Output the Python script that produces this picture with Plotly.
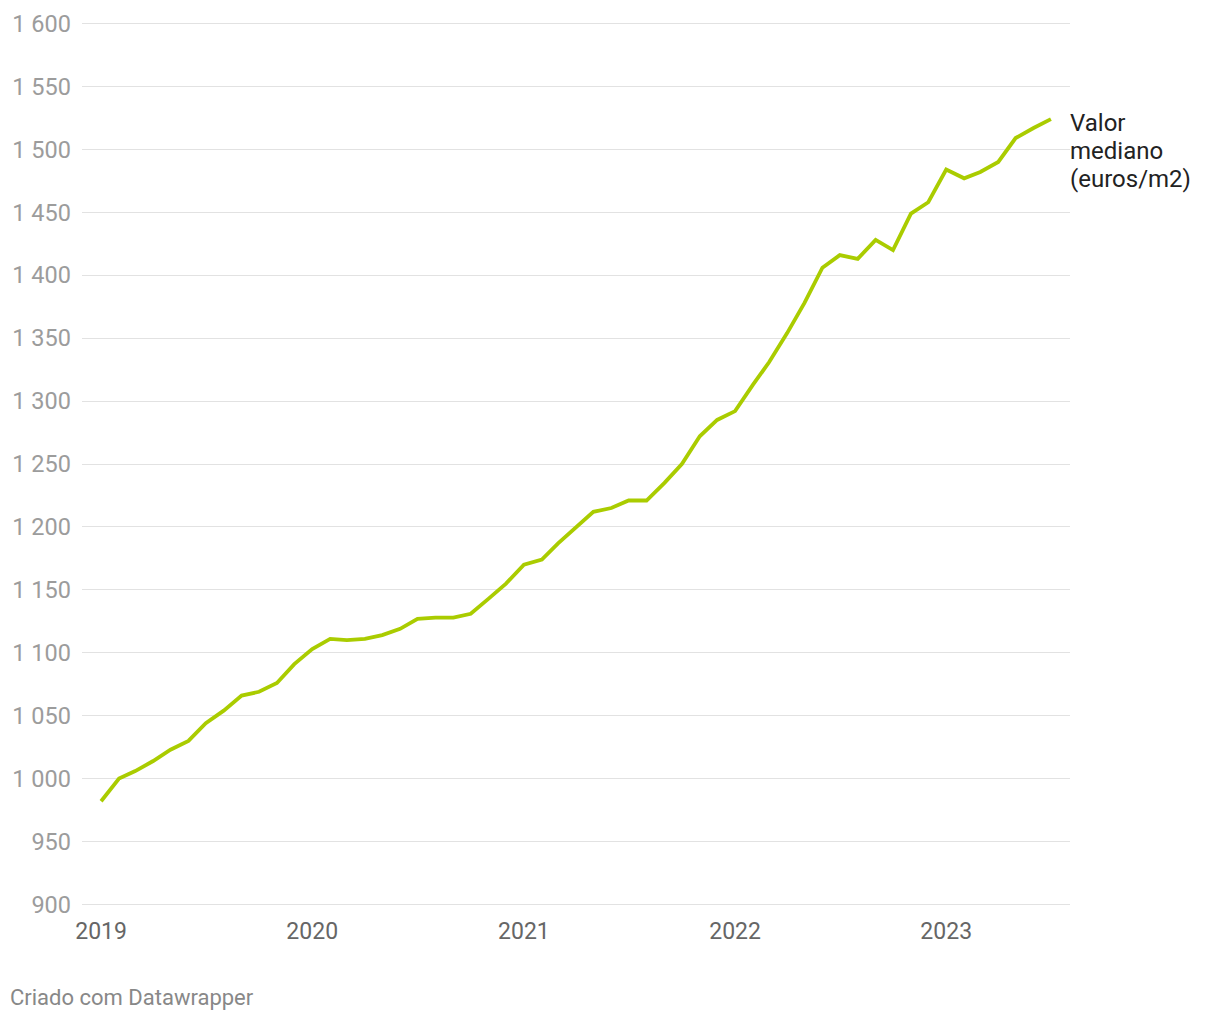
import plotly.graph_objects as go
import pandas as pd

months = pd.date_range("2019-01-01", "2023-07-01", freq="MS").strftime("%Y-%m-%d").tolist()
values = [
    982, 1000, 1006, 1014, 1023, 1030, 1044, 1054, 1066, 1069, 1076, 1091,
    1103, 1111, 1110, 1111, 1114, 1119, 1127, 1128, 1128, 1131, 1143, 1155,
    1170, 1174, 1187, 1200, 1212, 1215, 1221, 1221, 1235, 1250, 1272, 1285,
    1292, 1313, 1331, 1354, 1378, 1406, 1416, 1413, 1428, 1420, 1449, 1458,
    1484, 1477, 1482, 1490, 1509, 1517, 1524,
]
series_label_lines = ["Valor", "mediano", "(euros/m2)"]
y_tickvals = [900, 950, 1000, 1050, 1100, 1150, 1200, 1250, 1300, 1350, 1400, 1450, 1500, 1550, 1600]
y_ticktext = ["900", "950", "1 000", "1 050", "1 100", "1 150", "1 200", "1 250",
              "1 300", "1 350", "1 400", "1 450", "1 500", "1 550", "1 600"]
x_tickvals = ["2019-01-01", "2020-01-01", "2021-01-01", "2022-01-01", "2023-01-01"]
x_ticktext = ["2019", "2020", "2021", "2022", "2023"]

fig = go.Figure()
fig.add_trace(go.Scatter(
    x=months, y=values, mode="lines",
    line=dict(color="#aacc00", width=3.8),
    hoverinfo="x+y", showlegend=False,
))

for i, line_text in enumerate(series_label_lines):
    fig.add_annotation(
        x=1.0, xref="paper", xanchor="left", xshift=-2,
        y=values[-1], yref="y", yanchor="middle", yshift=-4 - 28 * i,
        text=line_text, showarrow=False, align="left",
        font=dict(family="Roboto", size=24, color="#222222"),
    )
fig.add_annotation(
    x=-74/988, xref="paper", xanchor="left",
    y=-90/886, yref="paper", yanchor="middle",
    text="Criado com Datawrapper", showarrow=False, align="left",
    font=dict(family="Roboto", size=22, color="#888888"),
)

fig.update_layout(
    width=1220, height=1020,
    margin=dict(l=74, r=158, t=13, b=121, autoexpand=False),
    paper_bgcolor="white", plot_bgcolor="white",
    font=dict(family="Roboto"),
    xaxis=dict(
        range=["2018-11-29", "2023-08-03"],
        tickvals=x_tickvals, ticktext=x_ticktext,
        showgrid=False, zeroline=False, showline=False,
        ticks="", tickfont=dict(size=23, color="#666666"),
        ticklabelstandoff=8,
    ),
    yaxis=dict(
        range=[898, 1602],
        tickvals=y_tickvals, ticktext=y_ticktext,
        showgrid=True, gridcolor="#e2e2e2", gridwidth=1,
        zeroline=False, showline=False, ticks="",
        tickfont=dict(size=23.5, color="#9c9c9c"),
        ticklabelstandoff=10,
    ),
)

fig.write_html("out.html")
